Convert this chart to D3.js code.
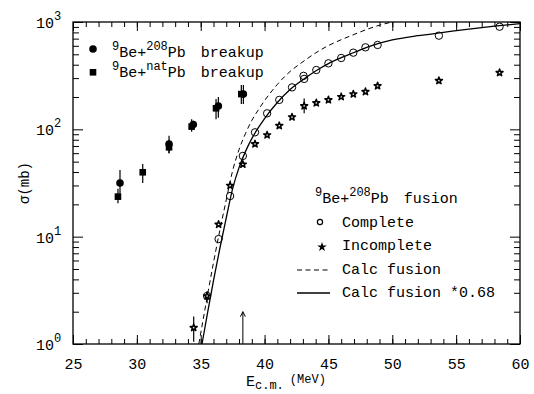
<!DOCTYPE html>
<html>
<head>
<meta charset="utf-8">
<script src="https://cdn.jsdelivr.net/npm/d3@7"></script>
<style>
body { margin: 0; background: #fff; }
text { font-family: "Courier New", "Liberation Mono", monospace; fill: #000; }
</style>
</head>
<body>
<div id="chart"></div>
<script>
// 9Be + 208Pb breakup
var bu208_E   = [28.68, 32.52, 34.42, 36.38, 38.34];
var bu208_sig = [31.6, 73, 111, 165, 213];
var bu208_lo  = [23.4, 60, 100, 128, 172];
var bu208_hi  = [41.8, 87, 120, 200, 259];

// 9Be + natPb breakup
var buNat_E   = [28.52, 30.46, 32.52, 34.29, 36.2, 38.18];
var buNat_sig = [23.6, 39.8, 68, 106, 157, 213];
var buNat_lo  = [20.5, 31.6, 60, 95, 124, 172];
var buNat_hi  = [28, 47.5, 80, 124, 192, 259];

// complete fusion
var cf_E   = [35.5, 36.4, 37.3, 38.3, 39.25, 40.2, 41.15, 42.15, 43.05, 43.1, 44.05, 45.0, 46.0, 46.95, 47.9, 48.85, 53.65, 58.4];
var cf_sig = [2.8, 9.5, 23.9, 56.5, 93.8, 141, 188, 246, 315, 295, 357, 412, 462, 518, 581, 611, 746, 904];

// incomplete fusion
var icf_E   = [34.45, 35.5, 36.4, 37.3, 38.3, 39.25, 40.2, 41.15, 42.15, 43.1, 44.05, 45.0, 46.0, 46.95, 47.9, 48.85, 53.65, 58.4];
var icf_sig = [1.42, 2.8, 13.0, 29.9, 47.2, 73, 88.5, 108, 130, 165, 176, 188, 201, 213, 224, 254, 284, 337];
var icfErr_E  = [34.45, 35.5, 43.1];
var icfErr_lo = [1.05, 2.4, 141];
var icfErr_hi = [1.8, 3.1, 194];

// calculated fusion curves
var calc_E      = [34.85, 35.1, 35.5, 36, 36.5, 37, 37.5, 38, 38.5, 39, 39.5, 40, 41, 42, 43, 44, 45, 46, 47, 48, 49, 50, 52];
var calc_sig    = [1.0, 1.47, 2.72, 5.73, 11.5, 22, 41.2, 64.7, 91, 121, 151, 185, 262, 346, 426, 515, 603, 684, 765, 853, 934, 1000, 1096];
var calc068_E   = [34.85, 35.1, 35.5, 36, 36.5, 37, 37.5, 38, 38.5, 39, 39.5, 40, 41, 42, 43, 44, 45, 46, 47, 48, 49, 50, 52, 54, 56, 58, 60];
var calc068_sig = [0.68, 1.0, 1.85, 3.9, 7.8, 15, 28, 44, 62, 82, 103, 126, 178, 235, 290, 350, 410, 465, 520, 580, 635, 680, 745, 800, 860, 915, 965];

// barrier arrow
var arrow_E = 38.3, arrow_top = 2.0;

var xMajor = [25, 30, 35, 40, 45, 50, 55, 60];
var xMinor = d3.range(25, 61, 1);
var yMajor = [1, 10, 100, 1000];
var yExp = ["0", "1", "2", "3"];
var yMinor = [];
[1, 10, 100].forEach(function(d) { for (var m = 2; m <= 9; m++) yMinor.push(m * d); });

var W = 534, H = 394;
var pL = 73, pR = 520, pT = 22, pB = 344;

var svg = d3.select("#chart").append("svg").attr("width", W).attr("height", H);

var x = d3.scaleLinear().domain([25, 60]).range([pL, pR]);
var y = d3.scaleLog().domain([1, 1000]).range([pB, pT]);

svg.append("clipPath").attr("id", "clip")
  .append("rect").attr("x", pL).attr("y", pT).attr("width", pR - pL).attr("height", pB - pT);

// frame
svg.append("rect").attr("x", pL).attr("y", pT).attr("width", pR - pL).attr("height", pB - pT)
  .attr("fill", "none").attr("stroke", "#000").attr("stroke-width", 1.3);

// ticks, all pointing inward
function axisTicks(axis, tr) {
  var g = svg.append("g").attr("transform", tr).call(axis);
  g.select(".domain").remove();
  g.selectAll("line").attr("stroke", "#000").attr("stroke-width", 1);
  return g;
}
axisTicks(d3.axisBottom(x).tickValues(xMinor).tickSize(-5).tickSizeOuter(0).tickFormat(""), "translate(0," + pB + ")");
var gx = axisTicks(d3.axisBottom(x).tickValues(xMajor).tickSize(-9).tickSizeOuter(0).tickPadding(14), "translate(0," + pB + ")");
gx.selectAll("text").attr("font-size", 15).style("font-family", "'Courier New','Liberation Mono',monospace").attr("dy", "0.71em");
axisTicks(d3.axisTop(x).tickValues(xMinor).tickSize(-5).tickSizeOuter(0).tickFormat(""), "translate(0," + pT + ")");
axisTicks(d3.axisTop(x).tickValues(xMajor).tickSize(-9).tickSizeOuter(0).tickFormat(""), "translate(0," + pT + ")");
axisTicks(d3.axisLeft(y).tickValues(yMinor).tickSize(-6).tickSizeOuter(0).tickFormat(""), "translate(" + pL + ",0)");
axisTicks(d3.axisLeft(y).tickValues(yMajor).tickSize(-10).tickSizeOuter(0).tickFormat(""), "translate(" + pL + ",0)");
axisTicks(d3.axisRight(y).tickValues(yMinor).tickSize(-6).tickSizeOuter(0).tickFormat(""), "translate(" + pR + ",0)");
axisTicks(d3.axisRight(y).tickValues(yMajor).tickSize(-10).tickSizeOuter(0).tickFormat(""), "translate(" + pR + ",0)");

// y tick labels 10^n
yMajor.forEach(function(v, i) {
  var t = svg.append("text").attr("x", 36).attr("y", y(v) + 6).attr("font-size", 15);
  t.append("tspan").text("10");
  t.append("tspan").attr("font-size", 12).attr("dy", -8).text(yExp[i]);
});

// axis titles
svg.append("text").attr("transform", "translate(29,183) rotate(-90)")
  .attr("text-anchor", "middle").attr("font-size", 14).text("σ(mb)");
var xt = svg.append("text").attr("x", 246).attr("y", 386).attr("font-size", 15);
xt.append("tspan").text("E");
xt.append("tspan").attr("font-size", 12).attr("dy", 3).text("c.m.");
xt.append("tspan").attr("font-size", 12).attr("dy", -6).attr("dx", 6).text("(MeV)");

var plot = svg.append("g").attr("clip-path", "url(#clip)");

// calc curves
var line = d3.line().x(function(d) { return x(d[0]); }).y(function(d) { return y(d[1]); }).curve(d3.curveMonotoneX);
plot.append("path").datum(d3.zip(calc_E, calc_sig)).attr("d", line)
  .attr("fill", "none").attr("stroke", "#000").attr("stroke-width", 1).attr("stroke-dasharray", "5,3.5");
plot.append("path").datum(d3.zip(calc068_E, calc068_sig)).attr("d", line)
  .attr("fill", "none").attr("stroke", "#000").attr("stroke-width", 1.3);

// error bars
function errBars(E, lo, hi) {
  plot.append("g").selectAll("line").data(d3.zip(E, lo, hi)).join("line")
    .attr("x1", d => x(d[0])).attr("x2", d => x(d[0]))
    .attr("y1", d => y(d[1])).attr("y2", d => y(d[2]))
    .attr("stroke", "#000").attr("stroke-width", 1.2);
}
errBars(bu208_E, bu208_lo, bu208_hi);
errBars(buNat_E, buNat_lo, buNat_hi);
errBars(icfErr_E, icfErr_lo, icfErr_hi);

var star = d3.symbol().type(d3.symbolStar).size(15);
var starSmall = d3.symbol().type(d3.symbolStar).size(11);

// markers
plot.append("g").selectAll("rect").data(d3.zip(buNat_E, buNat_sig)).join("rect")
  .attr("x", d => x(d[0]) - 3.3).attr("y", d => y(d[1]) - 3.3).attr("width", 6.6).attr("height", 6.6).attr("fill", "#000");
plot.append("g").selectAll("circle").data(d3.zip(bu208_E, bu208_sig)).join("circle")
  .attr("cx", d => x(d[0])).attr("cy", d => y(d[1])).attr("r", 3.8).attr("fill", "#000");
plot.append("g").selectAll("path").data(d3.zip(icf_E, icf_sig)).join("path")
  .attr("d", star).attr("transform", d => "translate(" + x(d[0]) + "," + y(d[1]) + ")")
  .attr("fill", "#fff").attr("stroke", "#000").attr("stroke-width", 1.5).attr("stroke-linejoin", "round");
plot.append("g").selectAll("circle").data(d3.zip(cf_E, cf_sig)).join("circle")
  .attr("cx", d => x(d[0])).attr("cy", d => y(d[1])).attr("r", 3.7)
  .attr("fill", "none").attr("stroke", "#000").attr("stroke-width", 1);

// barrier arrow
var ax = x(arrow_E), ay = y(arrow_top);
svg.append("path").attr("d", "M" + ax + "," + pB + "V" + ay + "M" + (ax - 2.5) + "," + (ay + 5) + "L" + ax + "," + ay + "L" + (ax + 2.5) + "," + (ay + 5))
  .attr("fill", "none").attr("stroke", "#000").attr("stroke-width", 1);

// reaction label with superscripts
function reaction(xp, yp, mid, tail, gap) {
  var t = svg.append("text").attr("x", xp).attr("y", yp).attr("font-size", 15);
  t.append("tspan").attr("font-size", 12).attr("dy", -7).text("9");
  t.append("tspan").attr("dy", 7).text("Be+");
  t.append("tspan").attr("font-size", 12).attr("dy", -7).text(mid);
  t.append("tspan").attr("dy", 7).text("Pb");
  t.append("tspan").attr("dx", gap).text(" " + tail);
}

// top-left legend
svg.append("circle").attr("cx", 93).attr("cy", 49).attr("r", 3.8).attr("fill", "#000");
reaction(112, 57, "208", "breakup", 6);
svg.append("rect").attr("x", 89.7).attr("y", 69).attr("width", 6.6).attr("height", 6.6).attr("fill", "#000");
reaction(112, 77, "nat", "breakup", 6);

// bottom-right legend
reaction(315, 203, "208", "fusion", 6);
svg.append("circle").attr("cx", 320).attr("cy", 222).attr("r", 2.6).attr("fill", "none").attr("stroke", "#000").attr("stroke-width", 1.2);
svg.append("text").attr("x", 342).attr("y", 227).attr("font-size", 15).text("Complete");
svg.append("path").attr("d", starSmall).attr("transform", "translate(322,247)")
  .attr("fill", "#000").attr("stroke", "#000").attr("stroke-width", 1.2);
svg.append("text").attr("x", 342).attr("y", 250).attr("font-size", 15).text("Incomplete");
svg.append("line").attr("x1", 297).attr("x2", 330).attr("y1", 270).attr("y2", 270)
  .attr("stroke", "#000").attr("stroke-width", 1).attr("stroke-dasharray", "5,3.5");
svg.append("text").attr("x", 342).attr("y", 274).attr("font-size", 15).text("Calc fusion");
svg.append("line").attr("x1", 297).attr("x2", 330).attr("y1", 293).attr("y2", 293)
  .attr("stroke", "#000").attr("stroke-width", 1.3);
svg.append("text").attr("x", 342).attr("y", 297).attr("font-size", 15).text("Calc fusion *0.68");
</script>
</body>
</html>
